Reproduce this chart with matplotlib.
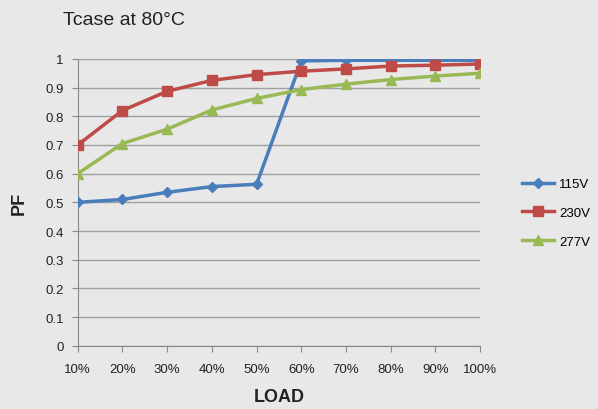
import numpy as np
import matplotlib.pyplot as plt

# data
loads = ["10%", "20%", "30%", "40%", "50%", "60%", "70%", "80%", "90%", "100%"]
pf_115 = [0.500, 0.510, 0.535, 0.555, 0.563, 0.993, 0.995, 0.995, 0.995, 0.995]
pf_230 = [0.700, 0.820, 0.887, 0.925, 0.945, 0.957, 0.965, 0.975, 0.978, 0.982]
pf_277 = [0.600, 0.705, 0.755, 0.822, 0.862, 0.893, 0.912, 0.928, 0.940, 0.950]

bg = "#e8e8e8"
plt.rcParams["font.family"] = ["Liberation Sans", "DejaVu Sans"]

fig = plt.figure(figsize=(5.98, 4.10), dpi=100, facecolor=bg)
ax = fig.add_axes([0.130, 0.154, 0.673, 0.700], facecolor=bg)

x = np.arange(len(loads))
ax.plot(x, pf_115, color="#4a7ebb", lw=2.5, marker="D", ms=5.5, label="115V", zorder=3)
ax.plot(x, pf_230, color="#be4b48", lw=2.5, marker="s", ms=7, label="230V", zorder=3)
ax.plot(x, pf_277, color="#98b954", lw=2.5, marker="^", ms=7.5, label="277V", zorder=3)

ax.set_xlim(0, len(loads) - 1)
ax.set_ylim(0, 1)
ax.set_xticks(x)
ax.set_xticklabels(loads)
ax.set_yticks(np.arange(0, 1.01, 0.1))
ax.set_yticklabels(["0"] + [f"{v:.1f}" for v in np.arange(0.1, 0.95, 0.1)] + ["1"])
ax.tick_params(axis="both", labelsize=9.5, colors="#222222", length=4, color="#888888")
ax.tick_params(axis="x", pad=8)
ax.tick_params(axis="y", pad=6)

ax.grid(axis="y", color="#a0a0a0", lw=1)
ax.set_axisbelow(True)
for s in ["top", "right"]:
    ax.spines[s].set_visible(False)
for s in ["left", "bottom"]:
    ax.spines[s].set_color("#888888")

ax.set_xlabel("LOAD", fontsize=13, fontweight="bold", color="#222222", labelpad=10)
ax.set_ylabel("PF", fontsize=13, fontweight="bold", color="#222222", labelpad=13)
fig.text(0.105, 0.95, "Tcase at 80°C", fontsize=14, color="#222222",
         family=["Liberation Sans Narrow", "Liberation Sans", "DejaVu Sans"], va="center")

ax.legend(loc="center left", bbox_to_anchor=(1.075, 0.463), frameon=False,
          fontsize=9.5, handlelength=2.4, handletextpad=0.4, labelspacing=1.25)

fig.savefig("out.png", dpi=100, facecolor=bg)
